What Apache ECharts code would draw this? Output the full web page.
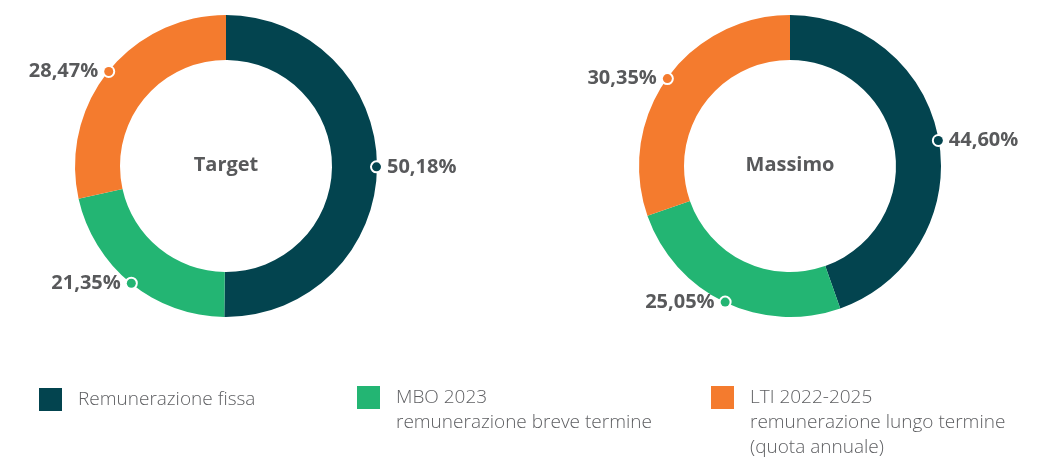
<!DOCTYPE html>
<html>
<head>
<meta charset="utf-8">
<script src="https://cdn.jsdelivr.net/npm/echarts@6/dist/echarts.min.js"></script>
<style>
  html, body { margin: 0; padding: 0; background: #fff; }
  #chart { width: 1037px; height: 459px; }
</style>
</head>
<body>
<div id="chart"></div>
<script>
const categories = [
  'Remunerazione fissa',
  'MBO 2023\nremunerazione breve termine',
  'LTI 2022-2025\nremunerazione lungo termine\n(quota annuale)'
];
const targetValues = [50.18, 21.35, 28.47];
const massimoValues = [44.60, 25.05, 30.35];
const pieTitles = ['Target', 'Massimo'];
const colors = ['#03444f', '#23b573', '#f47b2e'];

const textColor = '#58595b';
const chart = echarts.init(document.getElementById('chart'));

const fmtPct = (v) => v.toFixed(2).replace('.', ',') + '%';

const dotStyle = (c) => ({ width: 9, height: 9, borderRadius: 6, backgroundColor: c, borderColor: '#fff', borderWidth: 2 });

const makePie = (values, center) => ({
  type: 'pie',
  center: center,
  radius: [106, 151],
  startAngle: 90,
  clockwise: true,
  avoidLabelOverlap: false,
  silent: true,
  itemStyle: { borderWidth: 0 },
  label: {
    show: true,
    position: 'outside',
    distanceToLabelLine: 0,
    formatter: (p) => {
      // first slice sits on the right half, the others on the left half
      return p.dataIndex === 0
        ? '{dot' + p.dataIndex + '|}{sp|}{val|' + fmtPct(p.value) + '}'
        : '{val|' + fmtPct(p.value) + '}{sp|}{dot' + p.dataIndex + '|}';
    },
    rich: {
      val: { fontFamily: 'Open Sans', fontWeight: 'bold', fontSize: 20, color: textColor },
      sp: { width: 6 },
      dot0: dotStyle(colors[0]),
      dot1: dotStyle(colors[1]),
      dot2: dotStyle(colors[2])
    }
  },
  labelLine: { show: false, length: 0, length2: 0 },
  labelLayout: (params) => ({ dx: params.align === 'right' ? 5 : -5 }),
  data: categories.map((name, i) => ({ name: name, value: values[i], itemStyle: { color: colors[i] } }))
});

const legendBase = {
  orient: 'horizontal',
  icon: 'rect',
  itemWidth: 23,
  itemHeight: 23,
  padding: 0,
  selectedMode: false,
  // blank lines above keep the first line level with the square
  formatter: (name) => {
    const lines = name.split('\n');
    const pad = lines.slice(1).map(() => '{t| }');
    return pad.concat(lines.map((l) => '{t|' + l + '}')).join('\n');
  },
  textStyle: {
    rich: {
      t: { fontFamily: 'Open Sans', fontWeight: 300, fontSize: 19, color: '#5e5f62', lineHeight: 25, padding: [0, 0, 0, 11] }
    }
  }
};

const option = {
  backgroundColor: '#fff',
  color: colors,
  animation: false,
  title: pieTitles.map((t, i) => ({
    text: t,
    left: i === 0 ? 226 : 790,
    top: 165,
    textAlign: 'center',
    textVerticalAlign: 'middle',
    padding: 0,
    textStyle: { fontFamily: 'Open Sans', fontWeight: 'bold', fontSize: 20, color: textColor }
  })),
  legend: [
    Object.assign({}, legendBase, { left: 39, top: 388, data: [categories[0]] }),
    Object.assign({}, legendBase, { left: 357, top: 363, data: [categories[1]] }),
    Object.assign({}, legendBase, { left: 711, top: 338, data: [categories[2]] })
  ],
  series: [
    makePie(targetValues, [226, 166]),
    makePie(massimoValues, [790, 166])
  ]
};

chart.setOption(option);
</script>
</body>
</html>
